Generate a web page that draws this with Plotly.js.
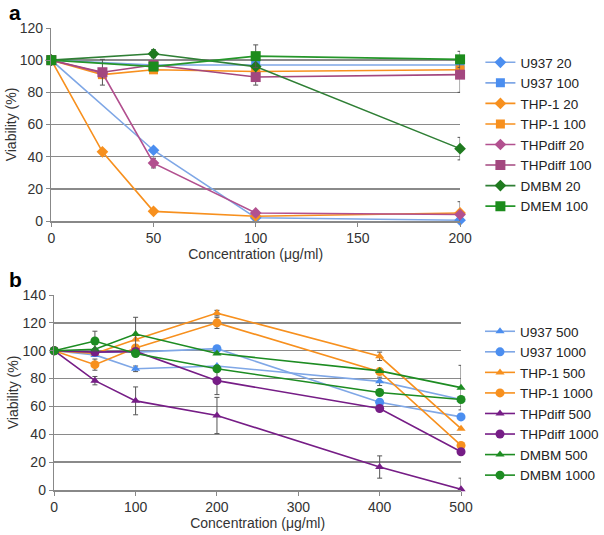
<!DOCTYPE html>
<html><head><meta charset="utf-8">
<script src="https://cdn.plot.ly/plotly-3.0.1.min.js"></script>
<style>html,body{margin:0;padding:0;background:#fff}#c{width:604px;height:535px}</style>
</head><body><div id="c"></div>
<script>
// ---------- Panel a ----------
const concA = [0, 25, 50, 100, 200];
const namesA = ["U937 20","U937 100","THP-1 20","THP-1 100","THPdiff 20","THPdiff 100","DMBM 20","DMEM 100"];
const u937_20   = [100, null, 44, 2, 0.5];
const u937_100  = [100, null, 97, 97, 97];
const thp1_20   = [100, 43, 6, 3, 5];
const thp1_100  = [100, 91, 94, 93, 94];
const thpd_20   = [100, 92, 36, 5, 4];
const thpd_100  = [100, 92.5, 97, 89.5, 91];
const dmbm_20   = [100, null, 104, 96, 45];
const dmem_100  = [100, null, 96, 102.5, 100.5];
const errA_u937_20  = [0, 0, 1, 0, 0];
const errA_u937_100 = [0, 0, 0, 0, 0];
const errA_thp1_20  = [0, 1, 1, 0, 7];
const errA_thp1_100 = [0, 0, 2, 0, 0];
const errA_thpd_20  = [0, 0, 3, 0, 0];
const errA_thpd_100 = [0, 8, 0, 5, 11];
const errA_dmbm_20  = [0, 0, 2.5, 0, 7];
const errA_dmem_100 = [0, 0, 0, 7, 5];

// ---------- Panel b ----------
const concB = [0, 50, 100, 200, 400, 500];
const namesB = ["U937 500","U937 1000","THP-1 500","THP-1 1000","THPdiff 500","THPdiff 1000","DMBM 500","DMBM 1000"];
const u937_500   = [100, 97, 87, 89, 78, 65];
const u937_1000  = [100, 99, 99, 101.5, 63, 52.5];
const thp1_500   = [100, 98, 108, 127, 96, 44];
const thp1_1000  = [100, 90, 102, 120, 85, 32];
const thpd_500   = [100, 78.5, 64, 53.5, 16.5, 0.5];
const thpd_1000  = [100, 99, 99.5, 78.5, 58.5, 27.5];
const dmbm_500   = [100, 101, 112, 98, 85.5, 73.5];
const dmbm_1000  = [100, 107, 98, 87, 70, 65];
const errB_u937_500  = [0, 0, 2, 0, 3, 0];
const errB_u937_1000 = [0, 0, 0, 0, 0, 2];
const errB_thp1_500  = [0, 0, 0, 2, 3, 0];
const errB_thp1_1000 = [0, 4, 0, 4, 0, 0];
const errB_thpd_500  = [0, 3, 10, 13, 8, 8];
const errB_thpd_1000 = [0, 0, 0, 10, 0, 0];
const errB_dmbm_500  = [0, 0, 12, 0, 0, 16];
const errB_dmbm_1000 = [0, 7, 0, 0, 0, 0];

const blueL = "#7fa7e6", blueM = "#4b8ef0", orange = "#f7901e", mag = "#b2508f", magD = "#a3477f",
      dgreen = "#1f7a1f", green = "#25962a", purple = "#761d86", greenB = "#1d8c22";

function tr(x, y, err, name, color, mcolor, symbol, xa, ya, legend, msize) {
  return {
    x: x, y: y, name: name, type: "scatter", mode: "lines+markers",
    xaxis: xa, yaxis: ya, legend: legend, connectgaps: true, cliponaxis: false,
    line: {color: color, width: 1.6},
    marker: {color: mcolor, symbol: symbol, size: msize},
    error_y: {type: "data", array: err, visible: true, color: "#555", thickness: 1, width: 2.5}
  };
}

const data = [
  tr(concA, u937_20,  errA_u937_20,  namesA[0], blueL, blueM, "diamond", "x", "y", "legend", 9),
  tr(concA, u937_100, errA_u937_100, namesA[1], blueL, blueM, "square",  "x", "y", "legend", 9),
  tr(concA, thp1_20,  errA_thp1_20,  namesA[2], orange, orange, "diamond", "x", "y", "legend", 9),
  tr(concA, thp1_100, errA_thp1_100, namesA[3], orange, orange, "square",  "x", "y", "legend", 9),
  tr(concA, thpd_20,  errA_thpd_20,  namesA[4], mag, mag, "diamond", "x", "y", "legend", 9),
  tr(concA, thpd_100, errA_thpd_100, namesA[5], magD, magD, "square",  "x", "y", "legend", 10),
  tr(concA, dmbm_20,  errA_dmbm_20,  namesA[6], "#2f7f35", dgreen, "diamond", "x", "y", "legend", 9),
  tr(concA, dmem_100, errA_dmem_100, namesA[7], green, "#1c8c1c", "square",  "x", "y", "legend", 10),

  tr(concB, u937_500,  errB_u937_500,  namesB[0], blueL, blueM, "triangle-up", "x2", "y2", "legend2", 8),
  tr(concB, u937_1000, errB_u937_1000, namesB[1], blueL, blueM, "circle",      "x2", "y2", "legend2", 9),
  tr(concB, thp1_500,  errB_thp1_500,  namesB[2], orange, orange, "triangle-up", "x2", "y2", "legend2", 8),
  tr(concB, thp1_1000, errB_thp1_1000, namesB[3], orange, orange, "circle",      "x2", "y2", "legend2", 9),
  tr(concB, thpd_500,  errB_thpd_500,  namesB[4], purple, purple, "triangle-up", "x2", "y2", "legend2", 8),
  tr(concB, thpd_1000, errB_thpd_1000, namesB[5], purple, purple, "circle",      "x2", "y2", "legend2", 9),
  tr(concB, dmbm_500,  errB_dmbm_500,  namesB[6], greenB, greenB, "triangle-up", "x2", "y2", "legend2", 8),
  tr(concB, dmbm_1000, errB_dmbm_1000, namesB[7], greenB, greenB, "circle",      "x2", "y2", "legend2", 9)
];

const W = 604, H = 535;
const tickF = {family: "Liberation Sans, Arial, sans-serif", size: 14, color: "#333"};
const titleF = {family: "Liberation Sans, Arial, sans-serif", size: 14, color: "#333"};
const legF = {family: "Liberation Sans, Arial, sans-serif", size: 13.5, color: "#222"};

function xax(domain, range, dtick, anchor) {
  return {domain: domain, range: range, dtick: dtick, tick0: 0, anchor: anchor,
    showgrid: false, zeroline: false, showline: true, linecolor: "#888", linewidth: 1.5,
    ticks: "outside", ticklen: 4, tickcolor: "#888", tickfont: tickF, fixedrange: true,
    title: {text: "Concentration (μg/ml)", font: titleF, standoff: 0}};
}
function yax(domain, range, anchor) {
  return {domain: domain, range: range, dtick: 20, anchor: anchor,
    showgrid: true, gridcolor: "#8a8a8a", gridwidth: 1.5, zeroline: false,
    showline: true, linecolor: "#888", linewidth: 1.5,
    ticks: "outside", ticklen: 4, tickcolor: "#888", tickfont: tickF, fixedrange: true,
    title: {text: "Viability (%)", font: titleF, standoff: 0}};
}

const layout = {
  width: W, height: H, margin: {l: 0, r: 0, t: 0, b: 0},
  paper_bgcolor: "#fff", plot_bgcolor: "#fff", showlegend: true,
  xaxis:  xax([53/W, 475/W], [0, 200], 50, "y"),
  yaxis:  yax([1 - 221/H, 1 - 28/H], [0, 120], "x"),
  xaxis2: xax([56/W, 476/W], [0, 500], 100, "y2"),
  yaxis2: yax([1 - 490/H, 1 - 295/H], [0, 140], "x2"),
  legend:  {x: 496/W, y: 1 - 47/H, xanchor: "left", yanchor: "top", font: legF, itemwidth: 30,
            bgcolor: "rgba(0,0,0,0)", tracegroupgap: 0},
  legend2: {x: 496/W, y: 1 - 316/H, xanchor: "left", yanchor: "top", font: legF, itemwidth: 30,
            bgcolor: "rgba(0,0,0,0)", tracegroupgap: 0},
  annotations: [
    {text: "<b>a</b>", x: 8/W, y: 1, xref: "paper", yref: "paper", xanchor: "left", yanchor: "top",
     borderpad: 0, showarrow: false,
     font: {family: "Liberation Sans, Arial, sans-serif", size: 21, color: "#000"}},
    {text: "<b>b</b>", x: 8/W, y: 1 - 267/H, xref: "paper", yref: "paper", xanchor: "left", yanchor: "top",
     borderpad: 0, showarrow: false,
     font: {family: "Liberation Sans, Arial, sans-serif", size: 21, color: "#000"}}
  ]
};

Plotly.newPlot("c", data, layout, {displayModeBar: false, staticPlot: true});
</script></body></html>
